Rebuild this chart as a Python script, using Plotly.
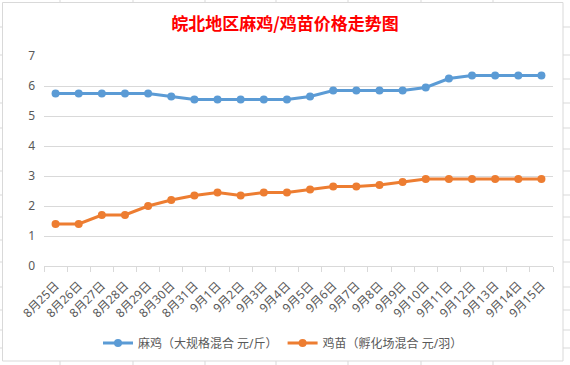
import plotly.graph_objects as go

categories = ["8月25日", "8月26日", "8月27日", "8月28日", "8月29日", "8月30日", "8月31日",
              "9月1日", "9月2日", "9月3日", "9月4日", "9月5日", "9月6日", "9月7日", "9月8日",
              "9月9日", "9月10日", "9月11日", "9月12日", "9月13日", "9月14日", "9月15日"]
maji = [5.75, 5.75, 5.75, 5.75, 5.75, 5.65, 5.55, 5.55, 5.55, 5.55, 5.55, 5.65, 5.85, 5.85,
        5.85, 5.85, 5.95, 6.25, 6.35, 6.35, 6.35, 6.35]
jimiao = [1.4, 1.4, 1.7, 1.7, 2.0, 2.2, 2.35, 2.45, 2.35, 2.45, 2.45, 2.55, 2.65, 2.65,
          2.7, 2.8, 2.9, 2.9, 2.9, 2.9, 2.9, 2.9]
series_names = ["麻鸡（大规格混合 元/斤）", "鸡苗（孵化场混合 元/羽）"]
title_text = "皖北地区麻鸡/鸡苗价格走势图"

W, H = 570, 365
L, R, T, B = 44, 553, 56, 266  # plot area in pixels


def px(x):
    return (x - L) / (R - L)


def py(y):
    return (B - y) / (B - T)


FONT = "Noto Sans, Noto Sans CJK SC, sans-serif"
GREY = "#d9d9d9"
TXT = "#595959"

fig = go.Figure()
fig.add_trace(go.Scatter(x=categories, y=maji, name=series_names[0], mode="lines+markers",
                         line=dict(color="#5b9bd5", width=3),
                         marker=dict(color="#5b9bd5", size=8)))
fig.add_trace(go.Scatter(x=categories, y=jimiao, name=series_names[1], mode="lines+markers",
                         line=dict(color="#ed7d31", width=3),
                         marker=dict(color="#ed7d31", size=8)))

shapes = []
# chart border
shapes.append(dict(type="rect", xref="paper", yref="paper",
                   x0=px(2.5), x1=px(563), y0=py(2.5), y1=py(361),
                   line=dict(color=GREY, width=1), layer="below"))
# spreadsheet cell lines outside the chart
for cx in [60, 133, 205, 276, 348, 421, 493]:
    shapes.append(dict(type="line", xref="paper", yref="paper", x0=px(cx), x1=px(cx),
                       y0=py(0), y1=py(2.5), line=dict(color=GREY, width=1)))
    shapes.append(dict(type="line", xref="paper", yref="paper", x0=px(cx), x1=px(cx),
                       y0=py(361), y1=py(365), line=dict(color=GREY, width=1)))
for ry in [27, 55, 79, 103, 128, 149, 171, 195, 217, 240, 262, 287, 310, 330, 348]:
    shapes.append(dict(type="line", xref="paper", yref="paper", x0=px(0), x1=px(2.5),
                       y0=py(ry), y1=py(ry), line=dict(color=GREY, width=1)))
    shapes.append(dict(type="line", xref="paper", yref="paper", x0=px(563), x1=px(570),
                       y0=py(ry), y1=py(ry), line=dict(color=GREY, width=1)))

fig.update_layout(
    width=W, height=H,
    margin=dict(l=L, r=W - R, t=T, b=H - B, pad=0, autoexpand=False),
    paper_bgcolor="white", plot_bgcolor="white",
    font=dict(family=FONT, color=TXT, size=12),
    title=dict(text=title_text, x=285 / W, xanchor="center", y=1 - 24 / H, yanchor="middle",
               font=dict(family="Noto Sans CJK SC", size=17, color="#ff0000", weight="bold")),
    showlegend=True,
    legend=dict(orientation="h", x=px(283), xanchor="center", y=py(343), yanchor="middle",
                font=dict(size=12, color=TXT), itemwidth=30, bgcolor="rgba(0,0,0,0)"),
    xaxis=dict(type="category", range=[-0.5, 21.5], tickangle=-45, tickson="boundaries",
               ticks="outside", ticklen=5, tickcolor=GREY, showline=True, linecolor=GREY,
               linewidth=1, showgrid=False, tickfont=dict(size=12, color=TXT), fixedrange=True,
               ticklabelstandoff=7),
    yaxis=dict(range=[0, 7], dtick=1, showgrid=True, gridcolor=GREY, gridwidth=1,
               zeroline=False, showline=False, ticks="", tickfont=dict(size=12, color=TXT),
               ticklabelstandoff=8),
    shapes=shapes,
)

fig.write_html("out.html", config={"displayModeBar": False},
               post_script="document.body.style.margin='0';document.body.style.padding='0';")
